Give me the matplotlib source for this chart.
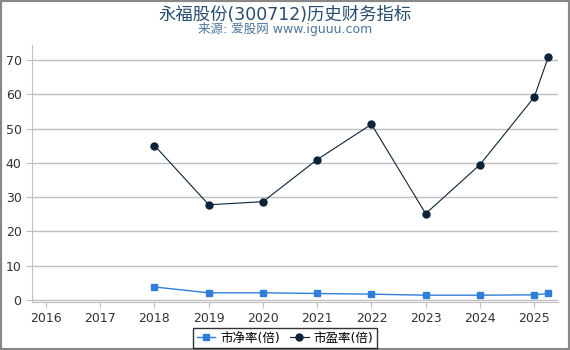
import matplotlib.pyplot as plt
from matplotlib.patches import Rectangle

plt.rcParams['font.family'] = ['DejaVu Sans', 'Noto Sans CJK SC']

# data
pb_years = [2018, 2019, 2020, 2021, 2022, 2023, 2024, 2025, 2025.26]
pb_values = [3.8, 2.1, 2.1, 1.9, 1.7, 1.4, 1.4, 1.5, 1.9]
pe_years = [2018, 2019, 2020, 2021, 2022, 2023, 2024, 2025, 2025.26]
pe_values = [45.1, 27.8, 28.7, 41.0, 51.3, 25.2, 39.5, 59.2, 70.9]
year_ticks = list(range(2016, 2026))
y_ticks = [0, 10, 20, 30, 40, 50, 60, 70]

fig = plt.figure(figsize=(5.7, 3.5), dpi=100)
ax = fig.add_axes([0.056, 0.137, 0.923, 0.735])

ax.plot(pb_years, pb_values, color='#2f7ed8', marker='s', markersize=5,
        linewidth=1, label='市净率(倍)')
ax.plot(pe_years, pe_values, color='#0d233a', marker='o', markersize=5,
        linewidth=0.8, label='市盈率(倍)')

ax.set_xlim(2015.74, 2025.44)
ax.set_ylim(-0.6, 74.5)
ax.set_xticks(year_ticks)
ax.set_xticklabels([str(y) for y in year_ticks])
ax.set_yticks(y_ticks)
ax.tick_params(axis='both', labelsize=9, colors='#333333', length=4)
ax.tick_params(axis='both', color='#c0c0c0')
ax.grid(axis='y', color='#c0c0c0', linewidth=1)
ax.set_axisbelow(True)
for side in ['top', 'right']:
    ax.spines[side].set_visible(False)
for side in ['left', 'bottom']:
    ax.spines[side].set_color('#c0c0c0')

fig.text(0.5, 0.958, '永福股份(300712)历史财务指标', ha='center', va='center',
         fontsize=12.5, color='#274b6d')
fig.text(0.5, 0.916, '来源: 爱股网 www.iguuu.com', ha='center', va='center',
         fontsize=9, color='#4d759e')

leg = fig.legend(loc='center', bbox_to_anchor=(0.5, 0.034), ncol=2,
                 fontsize=9, frameon=True, fancybox=False, handlelength=1.5,
                 handletextpad=0.4, columnspacing=0.8, borderpad=0.3)
leg.get_frame().set_edgecolor('black')
leg.get_frame().set_linewidth(1)

fig.patches.append(Rectangle((0, 0), 1, 1, transform=fig.transFigure,
                             fill=False, edgecolor='#888888', linewidth=3))

fig.savefig('out.png', dpi=100)
